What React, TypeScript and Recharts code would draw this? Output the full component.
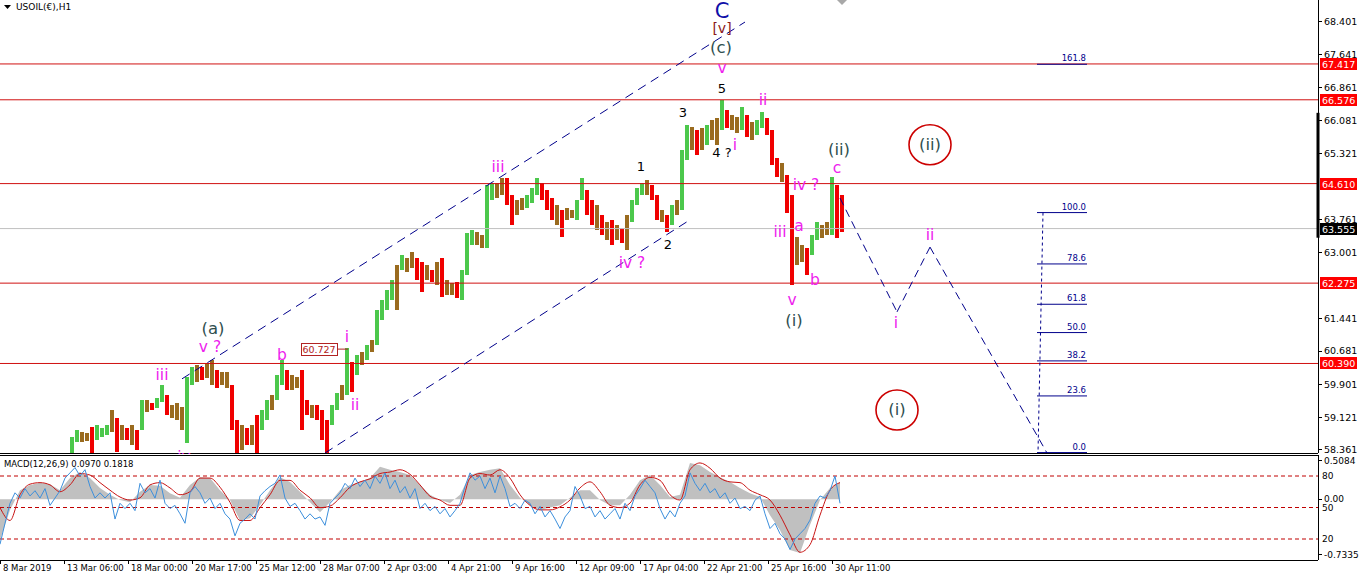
import React from 'react';
import { ComposedChart, Bar, Cell, XAxis, YAxis, ReferenceLine, ReferenceDot, Line, Area } from 'recharts';

const FONT = '"DejaVu Sans", Tahoma, Verdana, sans-serif';
const PINK = '#EE22EE';
const SLATE = '#2F4F4F';
const NAVY = '#00008B';
const HRED = '#D01010';

// ---------- price data: H1 bars grouped in 5-bar buckets ----------
const bucketStart = 70;
const bucketSize = 5;
const highs = [
  58.67, 58.83, 58.79, 58.76, 58.9, 58.95, 58.88, 58.95, 59.3, 59.11,
  58.95, 58.88, 58.95, 58.83, 59.53, 59.53, 59.46, 59.58, 59.89, 59.65,
  59.42, 59.46, 59.37, 60.07, 60.31, 60.36, 60.31, 60.4, 60.47, 60.24,
  60.19, 60.19, 59.89, 59.07, 58.95, 58.88, 58.95, 59.18, 59.3, 59.53,
  59.65, 60.12, 60.47, 60.24, 60.12, 60.07, 60.24, 59.53, 59.42, 59.42,
  59.3, 59.07, 59.42, 59.7, 59.89, 60.76, 60.43, 60.59, 60.66, 60.83,
  60.94, 61.65, 61.88, 62.12, 62.35, 62.7, 62.94, 62.87, 63.01, 62.87,
  62.77, 62.7, 62.58, 62.77, 62.87, 62.35, 62.28, 62.3, 62.58, 63.45,
  63.52, 63.48, 63.41, 64.58, 64.63, 64.63, 64.74, 64.74, 64.34, 64.23,
  64.27, 64.34, 64.51, 64.74, 64.63, 64.46, 64.27, 64.11, 63.99, 64.04,
  63.99, 64.23, 64.74, 64.46, 64.23, 64.11, 63.88, 63.71, 63.76, 63.64,
  63.57, 63.88, 64.23, 64.51, 64.63, 64.7, 64.58, 64.34, 63.99, 63.88,
  64.11, 64.23, 65.4, 65.99, 65.94, 65.87, 65.92, 65.99, 66.1, 66.15,
  66.57, 66.34, 66.22, 66.18, 66.41, 66.22, 66.06, 66.1, 66.29, 66.15,
  65.87, 65.21, 65.09, 64.81, 64.34, 63.36, 63.17, 63.1, 63.41, 63.71,
  63.64, 63.71, 64.77, 64.58, 64.34,
];
const lows = [
  58.17, 58.55, 58.55, 58.57, 58.29, 58.6, 58.67, 58.71, 58.79, 58.32,
  58.6, 58.6, 58.48, 58.36, 58.83, 59.25, 59.3, 59.35, 59.49, 59.18,
  59.11, 59.07, 58.83, 58.53, 59.89, 59.96, 60.0, 60.05, 59.89, 59.82,
  59.89, 59.82, 58.83, 58.17, 58.36, 58.48, 58.48, 58.24, 58.83, 59.07,
  59.3, 59.53, 59.89, 59.77, 59.77, 59.82, 58.83, 59.18, 59.11, 59.07,
  58.6, 58.24, 58.95, 59.3, 59.53, 59.65, 59.72, 60.12, 60.36, 60.47,
  60.66, 60.83, 61.41, 61.65, 61.88, 61.65, 62.58, 62.54, 62.63, 62.35,
  62.07, 62.35, 62.3, 62.23, 61.95, 62.0, 62.0, 61.93, 61.88, 62.47,
  63.17, 63.17, 63.1, 63.1, 64.23, 64.27, 64.34, 64.11, 63.64, 63.88,
  63.99, 64.04, 64.16, 64.34, 64.23, 63.99, 63.76, 63.64, 63.36, 63.76,
  63.81, 63.76, 64.23, 63.88, 63.64, 63.52, 63.41, 63.29, 63.17, 63.29,
  63.22, 63.05, 63.71, 64.11, 64.34, 64.34, 64.23, 63.76, 63.71, 63.48,
  63.64, 63.88, 63.99, 65.16, 65.4, 65.28, 65.4, 65.52, 65.63, 65.52,
  65.87, 65.92, 65.87, 65.8, 65.87, 65.7, 65.63, 65.75, 65.92, 65.75,
  65.05, 64.77, 64.65, 63.92, 62.23, 62.7, 62.77, 62.47, 62.94, 63.29,
  63.34, 63.41, 63.41, 63.34, 63.48,
];
// u = up bar, d = down bar, m = mixed (brown bodies)
const dirs =
  'uummduuumd' + 'mdmdumduud' + 'mmmuumdmmd' + 'mmddmdmduu' + 'muudmmddmd' +
  'dduumudumu' + 'muuuumummd' + 'dmdmdmmduu' + 'ummuummddm' + 'muuudddmdm' +
  'muuddmdmdm' + 'dmuuumddmd' + 'umuumdmumm' + 'udmmudmuud' + 'ddmddmmduu' + 'mmudd';

const dirColors: Record<string, string> = { u: '#4CC84C', d: '#F00000', m: '#9A6B1F' };

// ---------- levels ----------
const hLevels = [67.417, 66.576, 64.61, 62.275, 60.39];
const lastPrice = 63.555;
const priceTicks = [68.401, 67.641, 66.861, 66.081, 65.321, 63.761, 63.001, 61.441, 60.681, 59.901, 59.121, 58.361];
const lastRange = [66.27, 63.34];

const upperChannel = [{ x: 182, y: 60.03 }, { x: 745, y: 68.4 }];
const lowerChannel = [{ x: 325, y: 58.29 }, { x: 688, y: 63.73 }];
const projection = [
  { x: 840, y: 64.27 },
  { x: 897, y: 61.6 },
  { x: 930, y: 63.12 },
  { x: 1047, y: 58.29 },
];

const fibHigh = 63.93;
const fibLow = 58.3;
const fibRatios = [1.618, 1, 0.786, 0.618, 0.5, 0.382, 0.236, 0];
const fibNames = ['161.8', '100.0', '78.6', '61.8', '50.0', '38.2', '23.6', '0.0'];
const fibX = [1037, 1087];
const fibStem = [{ x: 1043, y: 63.93 }, { x: 1038, y: 58.3 }];

// wave labels: text, bar index, price, style
const waveLabels: [string, number, number, string][] = [
  ['iii', 162, 60.12, 'p'],
  ['iv', 184, 58.2, 'p'],
  ['v ?', 210, 60.78, 'p'],
  ['(a)', 213, 61.22, 's'],
  ['b', 282, 60.59, 'p'],
  ['i', 347, 61.01, 'p'],
  ['ii', 355, 59.42, 'p'],
  ['iii', 498, 65.0, 'p'],
  ['iv ?', 632, 62.75, 'p'],
  ['1', 641, 65.0, 'n'],
  ['2', 668, 63.17, 'n'],
  ['3', 683, 66.27, 'n'],
  ['4 ?', 722, 65.33, 'n'],
  ['i', 735, 65.52, 'p'],
  ['5', 722, 66.85, 'n'],
  ['v', 722, 67.32, 'p'],
  ['(c)', 721, 67.8, 's'],
  ['[v]', 722, 68.25, 'V'],
  ['C', 722, 68.66, 'C'],
  ['ii', 763, 66.57, 'p'],
  ['iv ?', 806, 64.58, 'p'],
  ['iii', 780, 63.48, 'p'],
  ['a', 799, 63.62, 'p'],
  ['v', 792, 61.88, 'p'],
  ['(i)', 794, 61.41, 's'],
  ['b', 815, 62.35, 'p'],
  ['c', 837, 64.98, 'p'],
  ['(ii)', 839, 65.4, 's'],
  ['i', 896, 61.34, 'p'],
  ['ii', 930, 63.4, 'p'],
];
const circledLabels: [string, number, number][] = [
  ['(ii)', 930, 65.52],
  ['(i)', 897, 59.3],
];
const priceTag = { text: '60.727', x: 348, y: 60.727 };

const labelStyles: Record<string, { color: string; size: number }> = {
  p: { color: PINK, size: 15.5 },
  s: { color: SLATE, size: 16.5 },
  n: { color: '#000', size: 13 },
  C: { color: '#1010A8', size: 21 },
  V: { color: '#8B1A1A', size: 14 },
};

// ---------- MACD panel data ----------
const histogram = [
  -0.54, -0.14, 0.12, 0.19, 0.22, 0.2, 0.12, 0.28, 0.36, 0.28,
  0.15, 0.06, -0.01, -0.04, 0.1, 0.19, 0.18, 0.08, 0.02, 0.19,
  0.29, 0.28, 0.12, -0.01, -0.28, -0.25, -0.08, 0.12, 0.29, 0.23,
  0.1, -0.04, -0.17, -0.04, 0.12, 0.19, 0.23, 0.28, 0.43, 0.39,
  0.36, 0.32, 0.19, 0.06, -0.01, -0.05, 0.06, 0.32, 0.36, 0.39,
  0.41, 0.19, 0.02, -0.08, -0.14, -0.11, -0.08, 0.02, 0.12, 0.12,
  -0.01, -0.08, -0.08, 0.06, 0.25, 0.32, 0.19, 0.03, 0.06, 0.48,
  0.45, 0.36, 0.29, 0.23, 0.15, 0.08, 0.03, -0.21, -0.41, -0.67,
  -0.71, -0.34, -0.01, 0.15, 0.23,
];
const signal = [
  -0.11, -0.28, 0.06, 0.2, 0.22, 0.19, 0.1, 0.19, 0.34, 0.32,
  0.22, 0.12, 0.03, -0.01, 0.02, 0.19, 0.22, 0.15, 0.06, 0.1,
  0.28, 0.28, 0.16, -0.04, -0.28, -0.28, -0.11, 0.06, 0.25, 0.25,
  0.12, 0.02, -0.11, -0.09, 0.02, 0.16, 0.23, 0.27, 0.34, 0.36,
  0.39, 0.33, 0.19, 0.04, -0.01, -0.08, -0.08, 0.28, 0.34, 0.32,
  0.39, 0.28, 0.06, -0.08, -0.14, -0.14, -0.1, -0.01, 0.15, 0.23,
  0.1, -0.08, -0.11, -0.05, 0.19, 0.29, 0.25, 0.06, -0.01, 0.39,
  0.48, 0.41, 0.28, 0.23, 0.22, 0.12, 0.06, -0.01, -0.21, -0.47,
  -0.7, -0.6, -0.21, 0.12, 0.22,
];
const oscillator = [
  15, 35, 54, 64, 59, 68, 61, 66, 59, 68,
  52, 59, 66, 78, 83, 88, 80, 86, 70, 59,
  64, 59, 64, 39, 54, 49, 54, 47, 73, 64,
  68, 59, 76, 54, 49, 52, 44, 35, 64, 70,
  64, 54, 59, 49, 54, 44, 39, 23, 35, 39,
  44, 39, 61, 66, 70, 73, 81, 59, 51, 54,
  47, 39, 44, 39, 41, 33, 54, 59, 64, 73,
  68, 78, 70, 76, 68, 80, 73, 83, 68, 76,
  64, 70, 59, 68, 49, 54, 47, 51, 44, 49,
  41, 47, 54, 70, 83, 76, 80, 68, 78, 64,
  80, 68, 51, 54, 49, 57, 54, 44, 51, 41,
  47, 39, 30, 41, 47, 70, 61, 49, 51, 41,
  47, 39, 44, 49, 39, 54, 47, 61, 68, 76,
  70, 64, 49, 39, 47, 41, 54, 61, 83, 73,
  66, 73, 64, 68, 59, 64, 54, 59, 49, 51,
  47, 57, 61, 44, 30, 35, 25, 20, 10, 20,
  25, 30, 38, 54, 61, 59, 66, 80, 54,
];
const oscStep = 5;
const oscLevels = [80, 50, 20];
const macdTicks = [0.5084, 0, -0.7335];

const timeTicks = [0, 64, 128, 192, 256, 320, 384, 448, 512, 576, 640, 704, 768, 832];
const timeLabels = [
  '8 Mar 2019', '13 Mar 06:00', '18 Mar 00:00', '20 Mar 17:00', '25 Mar 12:00', '28 Mar 07:00',
  '2 Apr 03:00', '4 Apr 21:00', '9 Apr 16:00', '12 Apr 09:00', '17 Apr 04:00', '22 Apr 21:00',
  '25 Apr 16:00', '30 Apr 11:00',
];

// ---------- derived tables ----------
const candles = highs.map((h, i) => ({
  x: bucketStart + bucketSize * i + bucketSize / 2,
  range: [lows[i], h],
  dir: dirs[i],
}));

const macdRows = oscillator.map((v, i) => ({
  x: i * oscStep,
  osc: v,
  hist: i % 2 === 0 ? histogram[i / 2] : null,
  sig: i % 2 === 0 ? signal[i / 2] : null,
}));

// ---------- shapes ----------
const textShape = (text: string, color: string, size: number, anchor = 'middle', dx = 0, dy = 0) => (p: any) => (
  <text
    x={p.cx + dx}
    y={p.cy + dy}
    textAnchor={anchor}
    dominantBaseline="central"
    fill={color}
    fontSize={size}
    fontFamily={FONT}
  >
    {text}
  </text>
);

const axisBox = (text: string, bg: string) => (p: any) => (
  <g>
    <rect x={p.cx + 2} y={p.cy - 6} width={37} height={12} fill={bg} />
    <text x={p.cx + 4} y={p.cy + 0.5} dominantBaseline="central" fill="#fff" fontSize={9.5} fontFamily={FONT}>
      {text}
    </text>
  </g>
);

const circledShape = (text: string) => (p: any) => (
  <g>
    <ellipse cx={p.cx} cy={p.cy} rx={21} ry={20} fill="none" stroke="#CC0000" strokeWidth={1.6} />
    <text x={p.cx} y={p.cy} textAnchor="middle" dominantBaseline="central" fill={SLATE} fontSize={16.5} fontFamily={FONT}>
      {text}
    </text>
  </g>
);

const priceTagShape = (text: string) => (p: any) => (
  <g>
    <line x1={p.cx - 11} y1={p.cy} x2={p.cx} y2={p.cy} stroke="#B22222" strokeWidth={1} />
    <rect x={p.cx - 47} y={p.cy - 6} width={36} height={12} fill="#fff" stroke="#B22222" strokeWidth={1} />
    <text x={p.cx - 29} y={p.cy + 0.5} textAnchor="middle" dominantBaseline="central" fill="#B22222" fontSize={9.5} fontFamily={FONT}>
      {text}
    </text>
  </g>
);

const titleShape = (text: string) => (p: any) => (
  <g>
    <polygon points={`${p.cx},${p.cy - 2} ${p.cx + 7},${p.cy - 2} ${p.cx + 3.5},${p.cy + 2}`} fill="#000" />
    <text x={p.cx + 12} y={p.cy} dominantBaseline="central" fill="#000" fontSize={9} fontFamily={FONT}>
      {text}
    </text>
  </g>
);

const shiftMarker = (p: any) => (
  <polygon points={`${p.cx - 5},${p.cy} ${p.cx + 5},${p.cy} ${p.cx},${p.cy + 5}`} fill="#A8A8A8" />
);

const TimeTick = (props: any) => {
  const { x, y, payload } = props;
  const idx = timeTicks.indexOf(payload.value);
  return (
    <text x={x + 3} y={y + 2} dominantBaseline="central" textAnchor="start" fill="#000" fontSize={8.5} fontFamily={FONT}>
      {idx >= 0 ? timeLabels[idx] : ''}
    </text>
  );
};

const W = 1361;
const AXIS_W = 43;
const X_DOMAIN: [number, number] = [0, 1318];
const MARGIN = { top: 0, right: 0, left: 0, bottom: 0 };
const CRISP = { shapeRendering: 'crispEdges' } as const;

export default function App() {
  return (
    <div
      className="mt4"
      style={{
        position: 'fixed',
        left: 0,
        top: 0,
        width: W,
        height: 582,
        background: '#fff',
        overflow: 'hidden',
      }}
    >
      <style>{'.mt4 svg rect, .mt4 svg path.recharts-rectangle { shape-rendering: crispEdges; }'}</style>
      <div style={{ position: 'absolute', left: 0, top: 0 }}>
        <ComposedChart width={W} height={454} data={candles} margin={MARGIN}>
          <XAxis
            type="number"
            dataKey="x"
            domain={X_DOMAIN}
            allowDataOverflow
            height={1}
            tick={false}
            tickLine={false}
            axisLine={{ stroke: '#000', ...CRISP }}
          />
          <YAxis
            orientation="right"
            type="number"
            domain={[58.29, 68.917]}
            allowDataOverflow
            ticks={priceTicks}
            interval={0}
            width={AXIS_W}
            tickSize={4}
            tickFormatter={(v: number) => v.toFixed(3)}
            tick={{ fontSize: 9.5, fill: '#000', fontFamily: FONT }}
            axisLine={{ stroke: '#000', ...CRISP }}
            tickLine={{ stroke: '#000', ...CRISP }}
          />
          {hLevels.map((v) => (
            <ReferenceLine key={`h${v}`} y={v} stroke={HRED} strokeWidth={1} />
          ))}
          <ReferenceLine y={lastPrice} stroke="#C0C0C0" strokeWidth={1} />
          <ReferenceLine segment={upperChannel} stroke={NAVY} strokeDasharray="9 6" ifOverflow="visible" />
          <ReferenceLine segment={lowerChannel} stroke={NAVY} strokeDasharray="9 6" ifOverflow="visible" />
          {projection.slice(0, -1).map((p, i) => (
            <ReferenceLine
              key={`pj${i}`}
              segment={[p, projection[i + 1]]}
              stroke={NAVY}
              strokeDasharray="8 5"
              ifOverflow="visible"
            />
          ))}
          {fibRatios.map((r, i) => {
            const lvl = fibLow + (fibHigh - fibLow) * r;
            return (
              <ReferenceLine
                key={`fib${i}`}
                segment={[{ x: fibX[0], y: lvl }, { x: fibX[1], y: lvl }]}
                stroke={NAVY}
                strokeWidth={1}
                ifOverflow="visible"
              />
            );
          })}
          <ReferenceLine segment={fibStem} stroke={NAVY} strokeDasharray="3 3" ifOverflow="visible" />
          <Bar dataKey="range" barSize={4} isAnimationActive={false}>
            {candles.map((c, i) => (
              <Cell key={`c${i}`} fill={dirColors[c.dir]} />
            ))}
          </Bar>
          <ReferenceLine
            segment={[{ x: 1318, y: lastRange[0] }, { x: 1318, y: lastRange[1] }]}
            stroke="#000"
            strokeWidth={3}
            ifOverflow="visible"
          />
          {fibRatios.map((r, i) => (
            <ReferenceDot
              key={`fl${i}`}
              x={fibX[1]}
              y={fibLow + (fibHigh - fibLow) * r}
              ifOverflow="visible"
              shape={textShape(fibNames[i], NAVY, 8.5, 'end', -1, -6)}
            />
          ))}
          {waveLabels.map(([t, x, y, k], i) => (
            <ReferenceDot
              key={`w${i}`}
              x={x}
              y={y}
              ifOverflow="visible"
              shape={textShape(t, labelStyles[k].color, labelStyles[k].size)}
            />
          ))}
          {circledLabels.map(([t, x, y], i) => (
            <ReferenceDot key={`cl${i}`} x={x} y={y} ifOverflow="visible" shape={circledShape(t)} />
          ))}
          <ReferenceDot x={priceTag.x} y={priceTag.y} ifOverflow="visible" shape={priceTagShape(priceTag.text)} />
          <ReferenceDot x={4} y={68.75} ifOverflow="visible" shape={titleShape('USOIL(€),H1')} />
          <ReferenceDot x={842} y={68.917} ifOverflow="visible" shape={shiftMarker} />
          {hLevels.map((v) => (
            <ReferenceDot key={`b${v}`} x={1318} y={v} ifOverflow="visible" shape={axisBox(v.toFixed(3), '#FF0000')} />
          ))}
          <ReferenceDot x={1318} y={lastPrice} ifOverflow="visible" shape={axisBox(lastPrice.toFixed(3), '#000')} />
        </ComposedChart>
      </div>
      <div style={{ position: 'absolute', left: 0, top: 454 }}>
        <ComposedChart width={W} height={127} data={macdRows} margin={MARGIN}>
          <XAxis
            xAxisId="top"
            orientation="top"
            type="number"
            dataKey="x"
            domain={X_DOMAIN}
            allowDataOverflow
            height={1}
            tick={false}
            tickLine={false}
            axisLine={{ stroke: '#000', ...CRISP }}
          />
          <XAxis
            xAxisId="b"
            type="number"
            dataKey="x"
            domain={X_DOMAIN}
            allowDataOverflow
            ticks={timeTicks}
            interval={0}
            height={21}
            tickSize={4}
            tick={TimeTick}
            axisLine={{ stroke: '#000', ...CRISP }}
            tickLine={{ stroke: '#000', ...CRISP }}
          />
          <YAxis
            yAxisId="m"
            orientation="right"
            type="number"
            domain={[-0.802, 0.585]}
            allowDataOverflow
            ticks={macdTicks}
            interval={0}
            width={AXIS_W}
            tickSize={4}
            tickFormatter={(v: number) => (v === 0 ? '0.00' : String(v))}
            tick={{ fontSize: 9, fill: '#000', fontFamily: FONT }}
            axisLine={{ stroke: '#000', ...CRISP }}
            tickLine={{ stroke: '#000', ...CRISP }}
          />
          <YAxis yAxisId="r" hide type="number" domain={[0, 100]} allowDataOverflow />
          <Area
            xAxisId="b"
            yAxisId="m"
            dataKey="hist"
            type="linear"
            baseValue={0}
            fill="#C0C0C0"
            fillOpacity={1}
            stroke="none"
            connectNulls
            isAnimationActive={false}
          />
          {oscLevels.map((v) => (
            <ReferenceLine key={`ol${v}`} xAxisId="b" yAxisId="r" y={v} stroke="#C00000" strokeDasharray="4 3" />
          ))}
          <Line
            xAxisId="b"
            yAxisId="m"
            dataKey="sig"
            type="monotone"
            stroke="#C81414"
            strokeWidth={1}
            dot={false}
            connectNulls
            isAnimationActive={false}
          />
          <Line
            xAxisId="b"
            yAxisId="r"
            dataKey="osc"
            type="linear"
            stroke="#3C8FDC"
            strokeWidth={1}
            dot={false}
            isAnimationActive={false}
          />
          {oscLevels.map((v) => (
            <ReferenceDot
              key={`olt${v}`}
              xAxisId="b"
              yAxisId="r"
              x={1318}
              y={v}
              ifOverflow="visible"
              shape={textShape(String(v), '#000', 9, 'start', 4)}
            />
          ))}
          <ReferenceDot
            xAxisId="b"
            yAxisId="r"
            x={4}
            y={91}
            ifOverflow="visible"
            shape={textShape('MACD(12,26,9) 0.0970 0.1818', '#000', 8.5, 'start')}
          />
        </ComposedChart>
      </div>
    </div>
  );
}
